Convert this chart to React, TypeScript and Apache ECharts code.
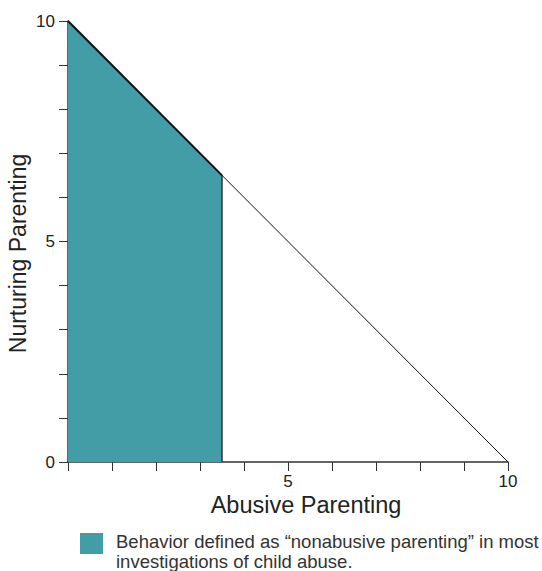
import React, { useEffect, useRef } from "react";
import * as echarts from "echarts";

// Data
const boundaryLine: [number, number][] = [
  [0, 10],
  [10, 0],
];
const nonabusiveTop: [number, number][] = [
  [0, 10],
  [3.5, 6.5],
];
const nonabusiveEdge: [number, number][] = [
  [3.5, 0],
  [3.5, 6.5],
];
const xTickLabels = [5, 10];
const yTickLabels = [0, 5, 10];
const xTitle = "Abusive Parenting";
const yTitle = "Nurturing Parenting";
const legendLines = [
  "Behavior defined as \u201cnonabusive parenting\u201d in most",
  "investigations of child abuse.",
];

const TEAL = "#429DA7";
const FONT = "'Liberation Sans', Arial, Helvetica, sans-serif";

export default function App() {
  const ref = useRef<HTMLDivElement>(null);
  useEffect(() => {
    if (!ref.current) return;
    const chart = echarts.init(ref.current, undefined, { renderer: "svg" });
    chart.setOption({
      animation: false,
      textStyle: { fontFamily: FONT },
      grid: {
        left: 68,
        top: 21,
        width: 440,
        height: 441,
        containLabel: false,
        outerBoundsMode: "none",
      },
      xAxis: {
        type: "value",
        min: 0,
        max: 10,
        interval: 1,
        name: xTitle,
        nameLocation: "middle",
        nameGap: 31,
        nameMoveOverlap: false,
        nameTextStyle: { fontSize: 23.5, color: "#222", fontFamily: FONT, padding: [0, 0, 0, 36] },
        axisLine: { show: true, lineStyle: { color: "#333", width: 1.5 } },
        axisTick: { show: true, length: 9, lineStyle: { color: "#333", width: 1 } },
        splitLine: { show: false },
        axisLabel: {
          margin: 11,
          fontSize: 17,
          color: "#222",
          fontFamily: FONT,
          formatter: (v: number) => (xTickLabels.includes(v) ? String(v) : ""),
        },
      },
      yAxis: {
        type: "value",
        min: 0,
        max: 10,
        interval: 1,
        name: yTitle,
        nameLocation: "middle",
        nameGap: 39,
        nameMoveOverlap: false,
        nameTextStyle: { fontSize: 23, color: "#222", fontFamily: FONT, padding: [0, 24, 0, 0] },
        axisLine: { show: true, lineStyle: { color: "#333", width: 1.5 } },
        axisTick: { show: true, length: 9, lineStyle: { color: "#333", width: 1 } },
        splitLine: { show: false },
        axisLabel: {
          margin: 13,
          fontSize: 17,
          color: "#222",
          fontFamily: FONT,
          formatter: (v: number) => (yTickLabels.includes(v) ? String(v) : ""),
        },
      },
      series: [
        {
          type: "line",
          name: "nonabusive",
          data: nonabusiveTop,
          showSymbol: false,
          symbol: "none",
          lineStyle: { color: "#111", width: 2 },
          areaStyle: { color: TEAL, opacity: 1 },
          z: 2,
        },
        {
          type: "line",
          data: nonabusiveEdge,
          symbol: "none",
          lineStyle: { color: "#333", width: 1.5 },
          z: 3,
        },
        {
          type: "line",
          data: boundaryLine,
          symbol: "none",
          lineStyle: { color: "#111", width: 1 },
          z: 4,
        },
      ],
      graphic: [
        {
          type: "rect",
          left: 80,
          top: 533,
          shape: { width: 23, height: 21 },
          style: { fill: TEAL },
        },
        {
          type: "text",
          left: 116,
          top: 531,
          style: {
            text: legendLines.join("\n"),
            fontSize: 18.5,
            lineHeight: 20,
            fill: "#333",
            fontFamily: FONT,
          },
        },
      ],
    });
    return () => chart.dispose();
  }, []);
  return (
    <div
      ref={ref}
      style={{ position: "absolute", left: 0, top: 0, width: 542, height: 571 }}
    />
  );
}
